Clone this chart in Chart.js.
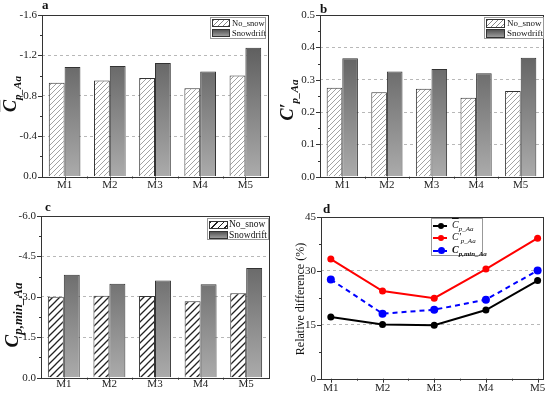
<!DOCTYPE html>
<html>
<head>
<meta charset="utf-8">
<script src="https://cdn.jsdelivr.net/npm/chart.js@4.4.1/dist/chart.umd.min.js"></script>
<style>
    body { margin: 0; width: 550px; height: 393px; background: #fff; position: relative; overflow: hidden; font-family: "Liberation Serif", "Times New Roman", serif; color: #222; }
    .panel { position: absolute; }
    .panel canvas { position: absolute; left: 0; top: 0; }
    .letter { position: absolute; font-weight: bold; font-size: 13px; line-height: 1; color: #111; }
    .ytitle { position: absolute; transform: translate(-50%, -50%) rotate(-90deg); white-space: nowrap; line-height: 1; color: #111; }
    .sym { font-weight: bold; font-style: italic; }
    .ov { text-decoration: overline; }
    .legend { position: absolute; border: 1px solid #999; background: #fff; box-sizing: border-box; }
    .sw { position: absolute; box-sizing: border-box; border: 1px solid #333; }
    .lab { position: absolute; color: #111; white-space: nowrap; line-height: 1; }
    .hatch { background: repeating-linear-gradient(135deg, #888 0 0.8px, #fff 0.8px 3.6px); }
    .hatch-dark { background: repeating-linear-gradient(135deg, #222 0 1.2px, #fff 1.2px 4.6px); }
    .grad { background: linear-gradient(#555, #9c9c9c); }
    .ln { position: absolute; left: 1px; width: 14px; height: 0; }
    .dot { position: absolute; width: 6px; height: 6px; border-radius: 50%; }
</style>
</head>
<body>
<div class="panel" style="left:0;top:0;width:275px;height:196px"><canvas id="chartA" width="275" height="196"></canvas></div>
<div class="panel" style="left:275px;top:0;width:275px;height:196px"><canvas id="chartB" width="275" height="196"></canvas></div>
<div class="panel" style="left:0;top:196px;width:275px;height:197px"><canvas id="chartC" width="275" height="197"></canvas></div>
<div class="panel" style="left:275px;top:196px;width:275px;height:197px"><canvas id="chartD" width="275" height="197"></canvas></div>

<div class="letter" style="left:42px;top:-2px">a</div>
<div class="letter" style="left:320px;top:2px">b</div>
<div class="letter" style="left:45px;top:200px">c</div>
<div class="letter" style="left:323px;top:202px">d</div>

<div class="ytitle" style="left:12px;top:94px"><span class="sym" style="font-size:18px"><span class="ov">C</span><sub style="font-size:11px">p_Aa</sub></span></div>
<div class="ytitle" style="left:289px;top:100px"><span class="sym" style="font-size:18px">C&#8242;<sub style="font-size:11px">p_Aa</sub></span></div>
<div class="ytitle" style="left:13px;top:315px"><span class="sym" style="font-size:19px">C<sub style="font-size:13px">p,min_Aa</sub></span></div>
<div class="ytitle" style="left:300px;top:299px;font-size:12px">Relative difference (%)</div>

<div class="legend" style="left:210px;top:17px;width:56px;height:21.5px">
    <div class="sw hatch" style="left:1px;top:1px;width:18px;height:8px"></div>
    <div class="lab" style="left:21px;top:1px;font-size:8.5px">No_snow</div>
    <div class="sw grad" style="left:1px;top:11px;width:18px;height:8px"></div>
    <div class="lab" style="left:21px;top:11px;font-size:8.5px">Snowdrift</div>
</div>
<div class="legend" style="left:484px;top:17px;width:60px;height:22px">
    <div class="sw hatch" style="left:1px;top:1px;width:19px;height:8.5px"></div>
    <div class="lab" style="left:22px;top:1px;font-size:9px">No_snow</div>
    <div class="sw grad" style="left:1px;top:11px;width:19px;height:8.5px"></div>
    <div class="lab" style="left:22px;top:11px;font-size:9px">Snowdrift</div>
</div>
<div class="legend" style="left:207px;top:217.5px;width:62px;height:22.5px">
    <div class="sw hatch-dark" style="left:1px;top:2px;width:18.5px;height:8.5px"></div>
    <div class="lab" style="left:21px;top:1.5px;font-size:9.5px">No_snow</div>
    <div class="sw grad" style="left:1px;top:12.5px;width:18.5px;height:8px"></div>
    <div class="lab" style="left:21px;top:12px;font-size:9.5px">Snowdrift</div>
</div>
<div class="legend" style="left:431px;top:218px;width:52px;height:38px">
    <div class="ln" style="top:6px;border-top:2px solid #000"></div>
    <div class="dot" style="left:6px;top:4px;background:#000"></div>
    <div class="lab sym" style="left:20px;top:1px;font-size:10px;font-weight:normal"><span class="ov">C</span><sub style="font-size:7px">p_Aa</sub></div>
    <div class="ln" style="top:18px;border-top:2px solid #f00"></div>
    <div class="dot" style="left:6px;top:16px;background:#f00"></div>
    <div class="lab sym" style="left:20px;top:13px;font-size:10px;font-weight:normal">C&#8242;<sub style="font-size:7px">p_Aa</sub></div>
    <div class="ln" style="top:30.5px;border-top:2px dashed #00f"></div>
    <div class="dot" style="left:5.5px;top:28px;width:7px;height:7px;background:#00f"></div>
    <div class="lab sym" style="left:20px;top:25.5px;font-size:10px">C<sub style="font-size:7px">p,min_Aa</sub></div>
</div>

<script>
const categories = ['M1', 'M2', 'M3', 'M4', 'M5'];

const meanNoSnow = [-0.93, -0.95, -0.975, -0.875, -1.0];
const meanSnowdrift = [-1.085, -1.095, -1.125, -1.04, -1.275];
const rmsNoSnow = [0.275, 0.261, 0.272, 0.244, 0.265];
const rmsSnowdrift = [0.366, 0.325, 0.333, 0.32, 0.368];
const minNoSnow = [-3.0, -3.04, -3.03, -2.84, -3.13];
const minSnowdrift = [-3.82, -3.49, -3.61, -3.47, -4.07];

const diffMean = [17.2, 15.1, 14.9, 19.1, 27.3];
const diffRms = [33.3, 24.4, 22.4, 30.5, 39.1];
const diffMin = [27.6, 18.1, 19.2, 22.0, 30.1];

const ticksA = [0, -0.4, -0.8, -1.2, -1.6];
const ticksB = [0, 0.1, 0.2, 0.3, 0.4, 0.5];
const ticksC = [0, -1.5, -3.0, -4.5, -6.0];
const ticksD = [0, 15, 30, 45];

document.addEventListener('DOMContentLoaded', () => {
    Chart.defaults.font.family = '"Liberation Serif", "Times New Roman", serif';
    Chart.defaults.font.size = 11;
    Chart.defaults.color = '#222';
    Chart.defaults.animation = false;

    function makeHatch(size, color, width) {
        const c = document.createElement('canvas');
        c.width = size;
        c.height = size;
        const g = c.getContext('2d');
        g.fillStyle = '#fff';
        g.fillRect(0, 0, size, size);
        g.strokeStyle = color;
        g.lineWidth = width;
        g.beginPath();
        g.moveTo(-1, size + 1); g.lineTo(size + 1, -1);
        g.moveTo(-1, 1); g.lineTo(1, -1);
        g.moveTo(size - 1, size + 1); g.lineTo(size + 1, size - 1);
        g.stroke();
        return g.createPattern(c, 'repeat');
    }

    function snowGradient(ctx) {
        const area = ctx.chart.chartArea;
        if (!area) return '#777';
        const g = ctx.chart.ctx.createLinearGradient(0, area.top, 0, area.bottom);
        g.addColorStop(0, '#4c4c4c');
        g.addColorStop(1, '#ababab');
        return g;
    }

    // frame box + major/minor tick marks drawn outward
    const frameTicks = {
        id: 'frameTicks',
        afterDraw(chart, args, opts) {
            const { ctx, chartArea: a, scales } = chart;
            const x = scales.x, y = scales.y;
            const snap = v => Math.round(v) + 0.5;
            ctx.save();
            ctx.strokeStyle = '#333';
            ctx.lineWidth = 1;
            ctx.strokeRect(snap(a.left), snap(a.top), Math.round(a.right) - Math.round(a.left), Math.round(a.bottom) - Math.round(a.top));
            ctx.beginPath();
            const yv = y.ticks.map(t => t.value);
            yv.forEach((v, i) => {
                const py = snap(y.getPixelForValue(v));
                ctx.moveTo(a.left - 4, py); ctx.lineTo(a.left, py);
                if (i < yv.length - 1) {
                    const my = snap(y.getPixelForValue((v + yv[i + 1]) / 2));
                    ctx.moveTo(a.left - 2, my); ctx.lineTo(a.left, my);
                }
            });
            const base = opts.base || 0;
            categories.forEach((c, i) => {
                const px = snap(x.getPixelForValue(i + base));
                ctx.moveTo(px, a.bottom); ctx.lineTo(px, a.bottom + 4);
                if (i < categories.length - 1) {
                    const mx = snap(x.getPixelForValue(i + base + 0.5));
                    ctx.moveTo(mx, a.bottom); ctx.lineTo(mx, a.bottom + 2);
                }
            });
            ctx.stroke();
            ctx.restore();
        }
    };

    function yScale(ticks, fmt, yWidth, reverse) {
        const lo = Math.min(...ticks), hi = Math.max(...ticks);
        return {
            type: 'linear',
            min: lo,
            max: hi,
            reverse: reverse,
            afterBuildTicks: s => { s.ticks = ticks.map(v => ({ value: v })); },
            afterFit: s => { s.width = yWidth; },
            ticks: { padding: 5, callback: fmt, color: '#222' },
            grid: {
                drawTicks: false,
                color: c => (c.tick && c.tick.value !== lo && c.tick.value !== hi) ? '#b8b8b8' : 'rgba(0,0,0,0)',
                lineWidth: 1
            },
            border: { display: false, dash: [3, 3] }
        };
    }

    function barChart(id, noSnow, snowdrift, ticks, geom, hatch) {
        new Chart(document.getElementById(id), {
            type: 'bar',
            data: {
                labels: categories,
                datasets: [
                    { label: 'No_snow', data: noSnow, backgroundColor: hatch, borderColor: '#333', borderWidth: 1 },
                    { label: 'Snowdrift', data: snowdrift, backgroundColor: snowGradient, borderColor: '#333', borderWidth: 1 }
                ]
            },
            options: {
                responsive: false,
                layout: { padding: { left: 0, top: geom.top, right: geom.right, bottom: 0 } },
                datasets: { bar: { categoryPercentage: 0.7, barPercentage: 1.0 } },
                plugins: { legend: { display: false }, tooltip: { enabled: false }, frameTicks: { base: 0 } },
                scales: {
                    x: {
                        type: 'category',
                        afterFit: s => { s.height = geom.xHeight; },
                        ticks: { padding: geom.xPad, color: '#222' },
                        grid: { display: false, drawTicks: false },
                        border: { display: false }
                    },
                    y: yScale(ticks, v => v.toFixed(1), geom.yWidth, ticks[1] < 0)
                }
            },
            plugins: [frameTicks]
        });
    }

    barChart('chartA', meanNoSnow, meanSnowdrift, ticksA,
        { top: 15, right: 7, yWidth: 42, xHeight: 19.5, xPad: 2 }, makeHatch(5, '#8a8a8a', 0.8));
    barChart('chartB', rmsNoSnow, rmsSnowdrift, ticksB,
        { top: 15, right: 7, yWidth: 45, xHeight: 19.3, xPad: 2 }, makeHatch(5, '#8a8a8a', 0.8));
    barChart('chartC', minNoSnow, minSnowdrift, ticksC,
        { top: 20, right: 6, yWidth: 41, xHeight: 15.3, xPad: 0 }, makeHatch(7, '#222', 1.3));

    const toPoints = arr => arr.map((v, i) => ({ x: i + 1, y: v }));

    new Chart(document.getElementById('chartD'), {
        type: 'line',
        data: {
            datasets: [
                { label: 'mean', data: toPoints(diffMean), borderColor: '#000', backgroundColor: '#000', borderWidth: 2, pointRadius: 3.5, pointBorderWidth: 0, tension: 0 },
                { label: 'rms', data: toPoints(diffRms), borderColor: '#f00', backgroundColor: '#f00', borderWidth: 2, pointRadius: 3.5, pointBorderWidth: 0, tension: 0 },
                { label: 'min', data: toPoints(diffMin), borderColor: '#00f', backgroundColor: '#00f', borderWidth: 2, borderDash: [5, 4], pointRadius: 4, pointBorderWidth: 0, tension: 0 }
            ]
        },
        options: {
            responsive: false,
            layout: { padding: { left: 0, top: 21, right: 6.7, bottom: 0 } },
            plugins: { legend: { display: false }, tooltip: { enabled: false }, frameTicks: { base: 1 } },
            scales: {
                x: {
                    type: 'linear',
                    min: 0.81,
                    max: 5.11,
                    afterBuildTicks: s => { s.ticks = categories.map((c, i) => ({ value: i + 1 })); },
                    afterFit: s => { s.height = 14.3; },
                    ticks: { padding: 3, color: '#222', callback: v => categories[Math.round(v) - 1] },
                    grid: { display: false, drawTicks: false },
                    border: { display: false }
                },
                y: yScale(ticksD, v => String(v), 46, false)
            }
        },
        plugins: [frameTicks]
    });
});
</script>
</body>
</html>
